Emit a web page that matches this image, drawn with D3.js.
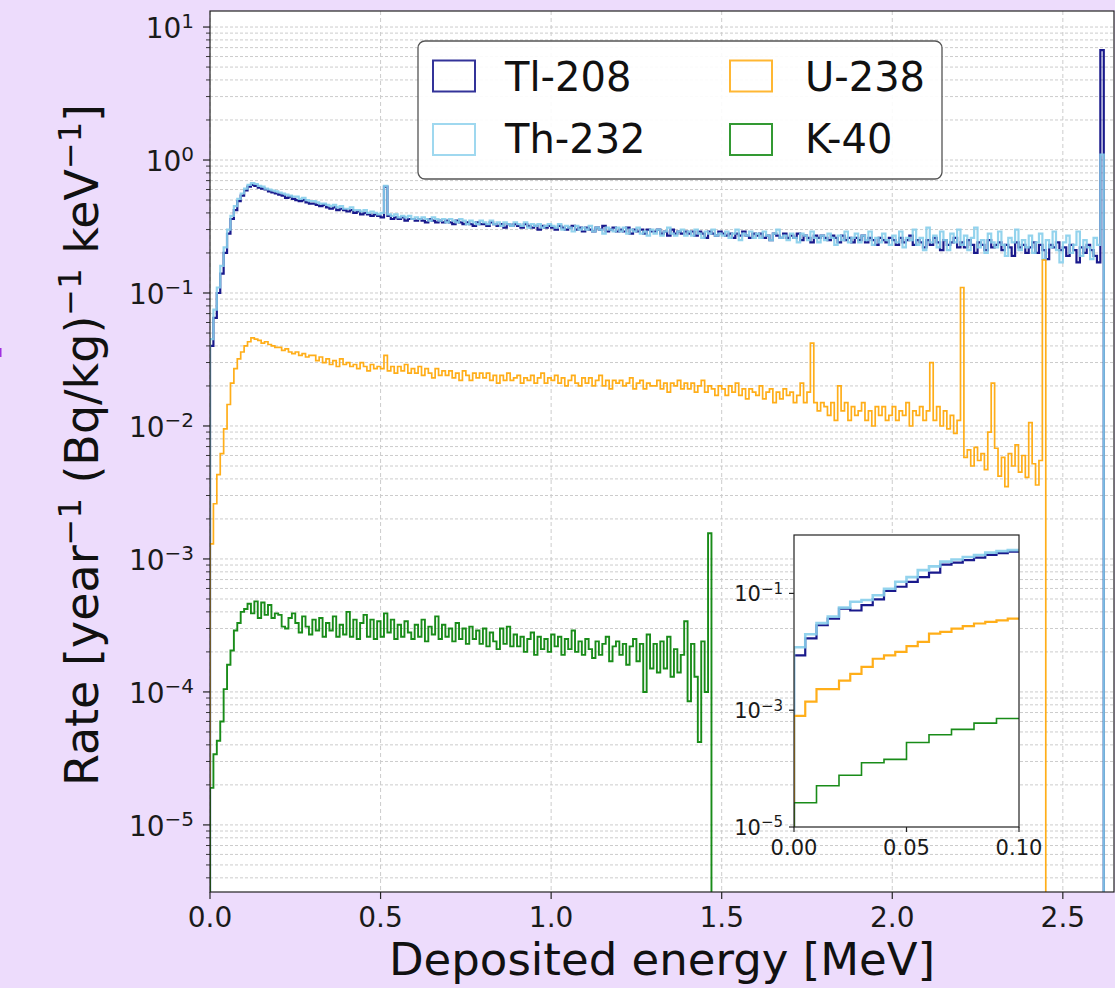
<!DOCTYPE html>
<html>
<head>
<meta charset="utf-8">
<script src="https://cdn.jsdelivr.net/npm/d3@7"></script>
<style>
  body { margin: 0; background: #eddcfc; }
  svg { display: block; font-family: "DejaVu Sans", sans-serif; }
</style>
</head>
<body>
<svg id="chart" width="1115" height="988"></svg>
<script>
// histogram contents, 10 keV bins starting at 0 MeV
var binWidth = 0.01;

var tl208 = [
  0.040, 0.065, 0.10, 0.14, 0.20, 0.28, 0.36, 0.42, 0.49, 0.54,
  0.59, 0.63, 0.65, 0.64, 0.62, 0.61, 0.60, 0.58, 0.57, 0.56,
  0.55, 0.54, 0.52, 0.53, 0.51, 0.50, 0.49, 0.50, 0.48, 0.47,
  0.47, 0.46, 0.45, 0.46, 0.44, 0.43, 0.44, 0.42, 0.43, 0.42,
  0.41, 0.42, 0.40, 0.41, 0.39, 0.40, 0.39, 0.38, 0.39, 0.38,
  0.37, 0.63, 0.38, 0.36, 0.37, 0.36, 0.37, 0.35, 0.36, 0.36,
  0.35, 0.36, 0.35, 0.34, 0.36, 0.35, 0.34, 0.35, 0.34, 0.35,
  0.34, 0.33, 0.35, 0.34, 0.33, 0.34, 0.33, 0.32, 0.34, 0.33,
  0.33, 0.32, 0.34, 0.33, 0.32, 0.33, 0.31, 0.33, 0.32, 0.33,
  0.32, 0.31, 0.33, 0.32, 0.31, 0.32, 0.30, 0.32, 0.31, 0.32,
  0.31, 0.30, 0.32, 0.31, 0.30, 0.31, 0.32, 0.30, 0.31, 0.29,
  0.31, 0.30, 0.29, 0.31, 0.30, 0.32, 0.29, 0.30, 0.31, 0.29,
  0.30, 0.29, 0.31, 0.28, 0.30, 0.29, 0.30, 0.28, 0.30, 0.29,
  0.29, 0.30, 0.28, 0.29, 0.27, 0.30, 0.28, 0.29, 0.28, 0.29,
  0.28, 0.29, 0.27, 0.29, 0.28, 0.26, 0.29, 0.28, 0.27, 0.29,
  0.28, 0.27, 0.28, 0.26, 0.28, 0.27, 0.29, 0.27, 0.26, 0.28,
  0.27, 0.28, 0.26, 0.27, 0.25, 0.28, 0.27, 0.26, 0.28, 0.26,
  0.27, 0.26, 0.28, 0.25, 0.27, 0.26, 0.24, 0.27, 0.26, 0.27,
  0.26, 0.25, 0.27, 0.26, 0.24, 0.27, 0.25, 0.26, 0.24, 0.26,
  0.25, 0.27, 0.24, 0.26, 0.25, 0.23, 0.26, 0.25, 0.24, 0.26,
  0.25, 0.23, 0.26, 0.24, 0.25, 0.27, 0.23, 0.25, 0.24, 0.22,
  0.25, 0.23, 0.26, 0.24, 0.21, 0.25, 0.23, 0.24, 0.26, 0.22,
  0.24, 0.22, 0.25, 0.23, 0.20, 0.24, 0.23, 0.21, 0.25, 0.22,
  0.23, 0.24, 0.21, 0.23, 0.22, 0.19, 0.24, 0.22, 0.23, 0.20,
  0.22, 0.24, 0.20, 0.23, 0.21, 0.18, 0.23, 0.22, 0.24, 0.21,
  0.22, 0.19, 0.23, 0.21, 0.17, 0.22, 0.20, 0.23, 0.21, 0.19,
  0.17, 6.7
];

var th232 = [
  0.045, 0.075, 0.11, 0.16, 0.22, 0.30, 0.38, 0.45, 0.51, 0.56,
  0.61, 0.65, 0.67, 0.66, 0.64, 0.63, 0.61, 0.60, 0.59, 0.58,
  0.57, 0.56, 0.55, 0.54, 0.53, 0.53, 0.51, 0.52, 0.50, 0.49,
  0.49, 0.48, 0.47, 0.47, 0.46, 0.45, 0.46, 0.44, 0.45, 0.43,
  0.43, 0.44, 0.42, 0.42, 0.41, 0.42, 0.40, 0.41, 0.40, 0.39,
  0.40, 0.64, 0.39, 0.38, 0.39, 0.37, 0.38, 0.37, 0.38, 0.36,
  0.37, 0.36, 0.37, 0.36, 0.35, 0.37, 0.36, 0.35, 0.36, 0.34,
  0.36, 0.35, 0.34, 0.36, 0.35, 0.33, 0.35, 0.34, 0.33, 0.35,
  0.34, 0.33, 0.35, 0.33, 0.34, 0.32, 0.34, 0.33, 0.32, 0.34,
  0.33, 0.32, 0.34, 0.31, 0.33, 0.32, 0.33, 0.31, 0.32, 0.33,
  0.32, 0.31, 0.33, 0.30, 0.32, 0.31, 0.29, 0.32, 0.30, 0.31,
  0.30, 0.32, 0.29, 0.31, 0.30, 0.28, 0.31, 0.30, 0.29, 0.31,
  0.29, 0.31, 0.28, 0.30, 0.29, 0.31, 0.28, 0.29, 0.27, 0.30,
  0.28, 0.30, 0.27, 0.29, 0.31, 0.28, 0.27, 0.29, 0.30, 0.27,
  0.29, 0.27, 0.30, 0.28, 0.26, 0.29, 0.28, 0.30, 0.27, 0.28,
  0.27, 0.29, 0.26, 0.28, 0.30, 0.25, 0.28, 0.27, 0.29, 0.26,
  0.28, 0.26, 0.29, 0.27, 0.25, 0.28, 0.30, 0.26, 0.27, 0.25,
  0.28, 0.26, 0.24, 0.28, 0.27, 0.25, 0.29, 0.26, 0.24, 0.27,
  0.25, 0.28, 0.26, 0.23, 0.27, 0.25, 0.29, 0.24, 0.26, 0.28,
  0.24, 0.27, 0.25, 0.29, 0.23, 0.26, 0.24, 0.28, 0.25, 0.23,
  0.27, 0.24, 0.29, 0.22, 0.26, 0.25, 0.30, 0.23, 0.26, 0.21,
  0.31, 0.24, 0.27, 0.22, 0.29, 0.25, 0.21, 0.28, 0.24, 0.30,
  0.23, 0.27, 0.21, 0.26, 0.31, 0.22, 0.25, 0.20, 0.28, 0.24,
  0.22, 0.29, 0.23, 0.19, 0.26, 0.24, 0.30, 0.21, 0.25, 0.22,
  0.27, 0.20, 0.24, 0.28, 0.18, 0.25, 0.22, 0.29, 0.21, 0.17,
  0.24, 0.27, 0.20, 0.23, 0.29, 0.19, 0.25, 0.22, 0.18, 0.26,
  0.23, 1.1
];

var u238 = [
  0.0013, 0.0026, 0.0043, 0.0062, 0.0095, 0.0145, 0.021, 0.027, 0.032, 0.036,
  0.040, 0.043, 0.046, 0.045, 0.044, 0.042, 0.043, 0.041, 0.040, 0.039,
  0.039, 0.037, 0.038, 0.036, 0.035, 0.036, 0.034, 0.035, 0.033, 0.034,
  0.034, 0.031, 0.033, 0.030, 0.032, 0.029, 0.031, 0.028, 0.032, 0.029,
  0.030, 0.028, 0.029, 0.027, 0.030, 0.028, 0.026, 0.029, 0.027, 0.028,
  0.027, 0.034, 0.026, 0.028, 0.025, 0.028, 0.026, 0.029, 0.025, 0.027,
  0.025, 0.028, 0.024, 0.027, 0.025, 0.023, 0.027, 0.024, 0.026, 0.024,
  0.026, 0.023, 0.025, 0.022, 0.026, 0.024, 0.022, 0.025, 0.023, 0.025,
  0.023, 0.025, 0.022, 0.024, 0.021, 0.024, 0.022, 0.025, 0.022, 0.023,
  0.024, 0.021, 0.023, 0.022, 0.024, 0.021, 0.023, 0.025, 0.021, 0.023,
  0.022, 0.024, 0.021, 0.023, 0.020, 0.022, 0.024, 0.021, 0.020, 0.023,
  0.021, 0.023, 0.020, 0.022, 0.024, 0.020, 0.022, 0.019, 0.022, 0.021,
  0.022, 0.020, 0.021, 0.023, 0.019, 0.021, 0.022, 0.019, 0.021, 0.020,
  0.020, 0.022, 0.019, 0.021, 0.018, 0.021, 0.020, 0.022, 0.019, 0.021,
  0.019, 0.021, 0.018, 0.020, 0.022, 0.018, 0.020, 0.019, 0.017, 0.020,
  0.019, 0.017, 0.020, 0.018, 0.021, 0.017, 0.019, 0.016, 0.019, 0.018,
  0.017, 0.020, 0.016, 0.018, 0.019, 0.015, 0.018, 0.016, 0.019, 0.017,
  0.018, 0.015, 0.017, 0.021, 0.015, 0.018, 0.042, 0.015, 0.013, 0.015,
  0.014, 0.012, 0.015, 0.011, 0.020, 0.013, 0.015, 0.011, 0.014, 0.012,
  0.013, 0.015, 0.011, 0.013, 0.010, 0.014, 0.012, 0.014, 0.011, 0.012,
  0.014, 0.011, 0.013, 0.012, 0.015, 0.010, 0.013, 0.012, 0.014, 0.011,
  0.013, 0.030, 0.011, 0.014, 0.010, 0.013, 0.0095, 0.012, 0.0088, 0.011,
  0.11, 0.0058, 0.0066, 0.0050, 0.0069, 0.0055, 0.0062, 0.0047, 0.0090, 0.021,
  0.0068, 0.0042, 0.0058, 0.0035, 0.0062, 0.0050, 0.0072, 0.0045, 0.0060, 0.0041,
  0.0106, 0.0052, 0.0036, 0.0055, 0.177
];

var k40 = [
  1.9e-5, 3.4e-5, 4.3e-5, 6.0e-5, 1.05e-4, 1.6e-4, 2.05e-4, 2.9e-4, 3.3e-4, 4.0e-4,
  4.2e-4, 4.6e-4, 3.9e-4, 4.8e-4, 3.6e-4, 4.7e-4, 3.8e-4, 4.5e-4, 3.6e-4, 3.9e-4,
  3.8e-4, 3.1e-4, 3.0e-4, 3.6e-4, 3.9e-4, 3.3e-4, 2.8e-4, 3.7e-4, 3.1e-4, 2.7e-4,
  3.5e-4, 2.9e-4, 3.6e-4, 2.6e-4, 3.3e-4, 2.9e-4, 3.7e-4, 2.6e-4, 3.2e-4, 2.7e-4,
  4.0e-4, 2.6e-4, 3.5e-4, 2.5e-4, 3.3e-4, 3.8e-4, 2.6e-4, 3.5e-4, 2.5e-4, 3.4e-4,
  2.6e-4, 3.9e-4, 2.8e-4, 3.5e-4, 2.5e-4, 3.2e-4, 2.6e-4, 3.4e-4, 2.8e-4, 2.5e-4,
  3.2e-4, 2.6e-4, 3.5e-4, 2.4e-4, 3.1e-4, 2.7e-4, 3.7e-4, 2.5e-4, 3.2e-4, 2.6e-4,
  3.0e-4, 2.4e-4, 3.3e-4, 2.5e-4, 3.0e-4, 2.3e-4, 3.1e-4, 2.5e-4, 2.9e-4, 2.3e-4,
  3.0e-4, 2.2e-4, 2.8e-4, 2.4e-4, 2.1e-4, 3.0e-4, 2.3e-4, 3.1e-4, 2.2e-4, 2.7e-4,
  2.2e-4, 2.6e-4, 2.0e-4, 2.5e-4, 2.8e-4, 1.9e-4, 2.6e-4, 2.1e-4, 2.5e-4, 2.0e-4,
  2.7e-4, 2.2e-4, 2.6e-4, 1.9e-4, 2.5e-4, 2.1e-4, 2.9e-4, 2.0e-4, 2.4e-4, 1.9e-4,
  2.5e-4, 2.1e-4, 1.8e-4, 2.4e-4, 1.9e-4, 2.3e-4, 2.6e-4, 1.7e-4, 2.2e-4, 2.4e-4,
  1.9e-4, 2.3e-4, 1.6e-4, 2.2e-4, 2.5e-4, 1.7e-4, 2.3e-4, 1.0e-4, 2.7e-4, 1.5e-4,
  2.3e-4, 1.4e-4, 2.4e-4, 1.5e-4, 2.6e-4, 1.3e-4, 2.1e-4, 1.4e-4, 1.9e-4, 3.4e-4,
  8.5e-5, 2.3e-4, 1.3e-4, 4.2e-5, 2.4e-4, 1.0e-4, 1.56e-3
];

// zoomed low-energy part shown in the inset
var insetBinWidth = 0.005;
var insetBinWidthK = 0.01;
var tl208Inset = [0.0087, 0.017, 0.0285, 0.037, 0.055, 0.051, 0.063, 0.079, 0.11, 0.13,
                  0.158, 0.19, 0.226, 0.31, 0.336, 0.37, 0.41, 0.455, 0.49, 0.52];
var th232Inset = [0.012, 0.020, 0.031, 0.040, 0.057, 0.072, 0.077, 0.093, 0.12, 0.158,
                  0.19, 0.25, 0.29, 0.35, 0.38, 0.42, 0.455, 0.50, 0.53, 0.55];
var u238Inset = [0.0008, 0.0014, 0.0023, 0.0023, 0.0032, 0.0042, 0.0055, 0.0076, 0.0087, 0.010,
                 0.0125, 0.0148, 0.0205, 0.022, 0.025, 0.0275, 0.0305, 0.0325, 0.0345, 0.037];
var k40Inset = [2.6e-5, 5.1e-5, 7.7e-5, 1.26e-4, 1.44e-4, 2.8e-4, 3.8e-4, 4.7e-4, 6.0e-4, 7.2e-4];

var labels = ["Tl-208", "Th-232", "U-238", "K-40"];
var colors = ["#000080", "#87ceeb", "#ffa500", "#008000"];
var xTicks = [0, 0.5, 1.0, 1.5, 2.0, 2.5];
var yDecades = [-5, -4, -3, -2, -1, 0, 1];
var insetXTicks = [0, 0.05, 0.10];
var insetYDecades = [-5, -3, -1];

var xDomain = [0, 2.65];
var yDomain = [3.13e-6, 13.2];

var svg = d3.select('#chart');
svg.append('rect').attr('width', 1115).attr('height', 988).attr('fill', '#eddcfc');
svg.append('rect').attr('x', 0).attr('y', 348).attr('width', 1.5).attr('height', 9).attr('fill', '#a030e0');

var x = d3.scaleLinear().domain(xDomain).range([210, 1114]);
var y = d3.scaleLog().domain(yDomain).range([892, 11]);

svg.append('rect').attr('x', 210).attr('y', 11).attr('width', 904).attr('height', 881).attr('fill', '#fff');

// grid
var gridVals = [];
for (var k = -6; k <= 1; k++) {
    for (var m = 1; m <= 9; m++) {
        var v = m * Math.pow(10, k);
        if (v > yDomain[0] && v < yDomain[1]) gridVals.push(v);
    }
}
svg.append('g').selectAll('line').data(gridVals).enter().append('line')
    .attr('x1', 210).attr('x2', 1114)
    .attr('y1', function (d) { return y(d); }).attr('y2', function (d) { return y(d); })
    .attr('stroke', '#cccccc').attr('stroke-width', 1).attr('stroke-dasharray', '3,2');
svg.append('g').selectAll('line').data(xTicks).enter().append('line')
    .attr('x1', function (d) { return x(d); }).attr('x2', function (d) { return x(d); })
    .attr('y1', 11).attr('y2', 892)
    .attr('stroke', '#cccccc').attr('stroke-width', 1).attr('stroke-dasharray', '4,3');

svg.append('clipPath').attr('id', 'mainClip').append('rect')
    .attr('x', 210).attr('y', 11).attr('width', 904).attr('height', 881);
svg.append('clipPath').attr('id', 'insetClip').append('rect')
    .attr('x', 794).attr('y', 535).attr('width', 225).attr('height', 292);

// step outline like matplotlib histtype='step'
function stepPoints(vals, w, close) {
    var pts = [[0, null]];
    vals.forEach(function (v, i) {
        pts.push([i * w, v]);
        pts.push([(i + 1) * w, v]);
    });
    if (close) pts.push([vals.length * w, null]);
    return pts;
}

function drawHist(g, vals, w, sx, sy, color, lw, close) {
    var bottom = sy.range()[0] + 20;
    var line = d3.line()
        .x(function (d) { return sx(d[0]); })
        .y(function (d) { return d[1] === null ? bottom : sy(d[1]); });
    g.append('path').attr('d', line(stepPoints(vals, w, close)))
        .attr('fill', 'none').attr('stroke', color).attr('stroke-width', lw)
        .attr('stroke-opacity', 0.9).attr('stroke-linejoin', 'miter');
}

var series = [tl208, th232, u238, k40];
var widths = [2.2, 2.2, 1.7, 1.9];
var plotG = svg.append('g').attr('clip-path', 'url(#mainClip)');
series.forEach(function (s, i) {
    drawHist(plotG, s, binWidth, x, y, colors[i], widths[i], true);
});

// spines and ticks
var axG = svg.append('g').attr('stroke', '#222').attr('stroke-width', 1.2);
axG.append('rect').attr('x', 210).attr('y', 11).attr('width', 904).attr('height', 881).attr('fill', 'none');
axG.selectAll('.xt').data(xTicks).enter().append('line')
    .attr('x1', function (d) { return x(d); }).attr('x2', function (d) { return x(d); })
    .attr('y1', 892).attr('y2', 899);
axG.selectAll('.yt').data(yDecades).enter().append('line')
    .attr('x1', 203).attr('x2', 210)
    .attr('y1', function (d) { return y(Math.pow(10, d)); }).attr('y2', function (d) { return y(Math.pow(10, d)); });
axG.selectAll('.ym').data(gridVals.filter(function (v) { return Math.abs(Math.log10(v) % 1) > 1e-6; }))
    .enter().append('line')
    .attr('x1', 206).attr('x2', 210).attr('stroke-width', 0.9)
    .attr('y1', function (d) { return y(d); }).attr('y2', function (d) { return y(d); });

function powLabel(g, px, py, k, fs, supFs) {
    var t = g.append('text').attr('x', px).attr('y', py).attr('text-anchor', 'end')
        .attr('font-size', fs).attr('fill', '#1a1a1a');
    t.append('tspan').text('10');
    t.append('tspan').attr('dy', -0.36 * fs).attr('font-size', supFs)
        .text(k < 0 ? '\u2212' + (-k) : String(k));
}

svg.append('g').selectAll('text').data(xTicks).enter().append('text')
    .attr('x', function (d) { return x(d); }).attr('y', 927)
    .attr('text-anchor', 'middle').attr('font-size', 28).attr('fill', '#1a1a1a')
    .text(function (d) { return d.toFixed(1); });
yDecades.forEach(function (k) {
    powLabel(svg, 194, y(Math.pow(10, k)) + 11, k, 28, 20);
});

svg.append('text').attr('x', 662).attr('y', 975).attr('text-anchor', 'middle')
    .attr('font-size', 45).attr('fill', '#111').text('Deposited energy [MeV]');
var yl = svg.append('text').attr('transform', 'translate(98,445) rotate(-90)')
    .attr('text-anchor', 'middle').attr('font-size', 46).attr('fill', '#111');
yl.append('tspan').text('Rate [year');
yl.append('tspan').attr('dy', -17).attr('font-size', 32).text('\u22121');
yl.append('tspan').attr('dy', 17).text(' (Bq/kg)');
yl.append('tspan').attr('dy', -17).attr('font-size', 32).text('\u22121');
yl.append('tspan').attr('dy', 17).text(' keV');
yl.append('tspan').attr('dy', -17).attr('font-size', 32).text('\u22121');
yl.append('tspan').attr('dy', 17).text(']');

// legend
var lg = svg.append('g');
lg.append('rect').attr('x', 418).attr('y', 41).attr('width', 524).attr('height', 138).attr('rx', 7)
    .attr('fill', '#fff').attr('fill-opacity', 0.9).attr('stroke', '#555').attr('stroke-width', 1.3);
var colX = [433, 730], textX = [505, 805], rowY = [60.5, 124], baseY = [90.5, 153];
labels.forEach(function (name, i) {
    var c = Math.floor(i / 2), r = i % 2;
    lg.append('rect').attr('x', colX[c]).attr('y', rowY[r]).attr('width', 42).attr('height', 31)
        .attr('fill', 'none').attr('stroke', colors[i]).attr('stroke-opacity', 0.8).attr('stroke-width', 2);
    lg.append('text').attr('x', textX[c]).attr('y', baseY[r]).attr('font-size', 40).attr('fill', '#111').text(name);
});

// inset
var ix = d3.scaleLinear().domain([0, 0.1]).range([794, 1019]);
var iy = d3.scaleLog().domain([1e-5, 1]).range([827, 535]);
svg.append('rect').attr('x', 794).attr('y', 535).attr('width', 225).attr('height', 292).attr('fill', '#fff');
var insetG = svg.append('g').attr('clip-path', 'url(#insetClip)');
var insetSeries = [tl208Inset, th232Inset, u238Inset, k40Inset];
var insetW = [insetBinWidth, insetBinWidth, insetBinWidth, insetBinWidthK];
var insetLw = [2.2, 2.6, 2.2, 1.6];
insetSeries.forEach(function (s, i) {
    drawHist(insetG, s, insetW[i], ix, iy, colors[i], insetLw[i], false);
});
var iax = svg.append('g').attr('stroke', '#222').attr('stroke-width', 1.2);
iax.append('rect').attr('x', 794).attr('y', 535).attr('width', 225).attr('height', 292).attr('fill', 'none');
iax.selectAll('.ixt').data(insetXTicks).enter().append('line')
    .attr('x1', function (d) { return ix(d); }).attr('x2', function (d) { return ix(d); })
    .attr('y1', 827).attr('y2', 832);
iax.selectAll('.iyt').data(insetYDecades).enter().append('line')
    .attr('x1', 789).attr('x2', 794)
    .attr('y1', function (d) { return iy(Math.pow(10, d)); }).attr('y2', function (d) { return iy(Math.pow(10, d)); });
svg.append('g').selectAll('text').data(insetXTicks).enter().append('text')
    .attr('x', function (d) { return ix(d); }).attr('y', 855)
    .attr('text-anchor', 'middle').attr('font-size', 21).attr('fill', '#1a1a1a')
    .text(function (d) { return d.toFixed(2); });
insetYDecades.forEach(function (k) {
    powLabel(svg, 783, iy(Math.pow(10, k)) + 8, k, 21, 15);
});
</script>
</body>
</html>
